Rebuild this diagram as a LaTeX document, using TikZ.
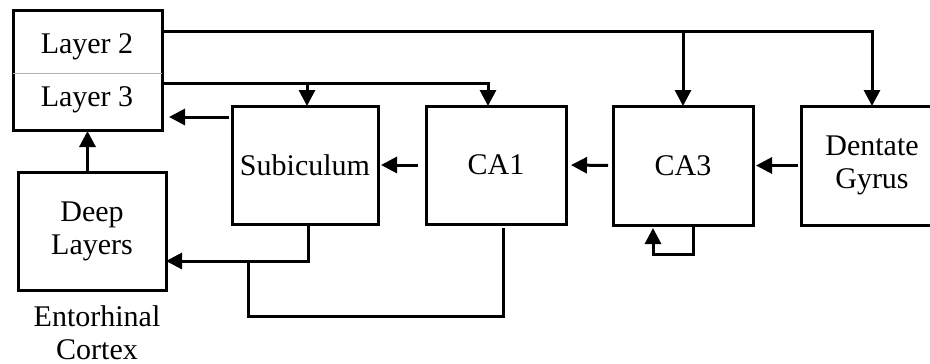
\documentclass[tikz,border=0pt]{standalone}
\usepackage{fontspec}
\setmainfont{Liberation Serif}
\usetikzlibrary{arrows.meta,positioning,calc}
\definecolor{ink}{HTML}{000000}
\definecolor{rule}{HTML}{B4B4B4}

\begin{document}
\begin{tikzpicture}[
  x=1pt, y=-1pt,
  every node/.style={inner sep=0pt, outer sep=0pt, text=ink,
                     font=\fontsize{30}{33}\selectfont},
  box/.style={draw=ink, line width=3pt, align=center, anchor=north west,
              minimum width=#1, minimum height=119pt},
  flow/.style={-{Triangle[length=16pt,width=16pt]}, line width=3pt, color=ink},
  wire/.style={line width=3pt, color=ink},
]
\useasboundingbox (0,0) rectangle (930,364);

% ---------------------------------------------------------------- entorhinal cortex
\node[box=149pt, minimum height=120pt] (EC) at (13,10) {};
\node (L2) at (87,47) {Layer 2};
\node (L3) at (87,100) {Layer 3};
\draw[rule, line width=0.8pt] ($(EC.north west)!0.525!(EC.south west)$)
                            -- ($(EC.north east)!0.525!(EC.south east)$);

\node[box=148pt, minimum height=118pt] (DL) at (18,172) {Deep\\Layers};
\node[align=center, anchor=north] (ECname) at (97,306) {Entorhinal\\Cortex};

% ---------------------------------------------------------------- hippocampus
\node[box=146pt, minimum height=118pt] (Sub) at (232,106) {Subiculum};
\node[box=140pt, minimum height=118pt] (CA1) at (426,106) {CA1};
\node[box=140pt] (CA3) at (613,106) {CA3};
\node[box=142pt] (DG)  at (801,106) {Dentate\\Gyrus};

% ---------------------------------------------------------------- flow
\coordinate (t2) at ($(EC.north east)+(0,21)$);
\coordinate (t3) at ($(EC.north east)+(0,73)$);
\coordinate (jo) at ($(Sub.south)+(3,37)$);

\draw[flow] (t2) -| (DG.north);
\draw[flow] (t2 -| CA3.north) -- (CA3.north);
\draw[flow] (t3) -| ($(CA1.north)+(-8,0)$);
\draw[flow] (t3 -| Sub.north) ++(2,0) -- ($(Sub.north)+(2,0)$);

\draw[flow, shorten <=3pt, shorten >=3pt] (DG.west) -- (CA3.east);
\draw[flow, shorten <=5pt, shorten >=5pt] (CA3.west) -- (CA1.east);
\draw[flow, shorten <=8pt, shorten >=3pt] (CA1.west) -- (Sub.east);
\draw[flow, shorten <=3pt, shorten >=7pt] ($(Sub.north west)+(0,11)$)
                                          -- (EC.east |- {$(Sub.north west)+(0,11)$});

\draw[flow, shorten >=1pt] (DL.north -| EC.south) -- (EC.south);
\draw[flow] ($(Sub.south)+(3,0)$) -- (jo) -- (DL.east |- jo);
\draw[wire] ($(CA1.south)+(7,4)$) |- ($(jo)+(-60,55)$) -- ($(jo)+(-60,0)$);
\draw[flow] ($(CA3.south)+(10,0)$) -- ++(0,29) -| ($(CA3.south)+(-30,3)$);

\end{tikzpicture}
\end{document}
